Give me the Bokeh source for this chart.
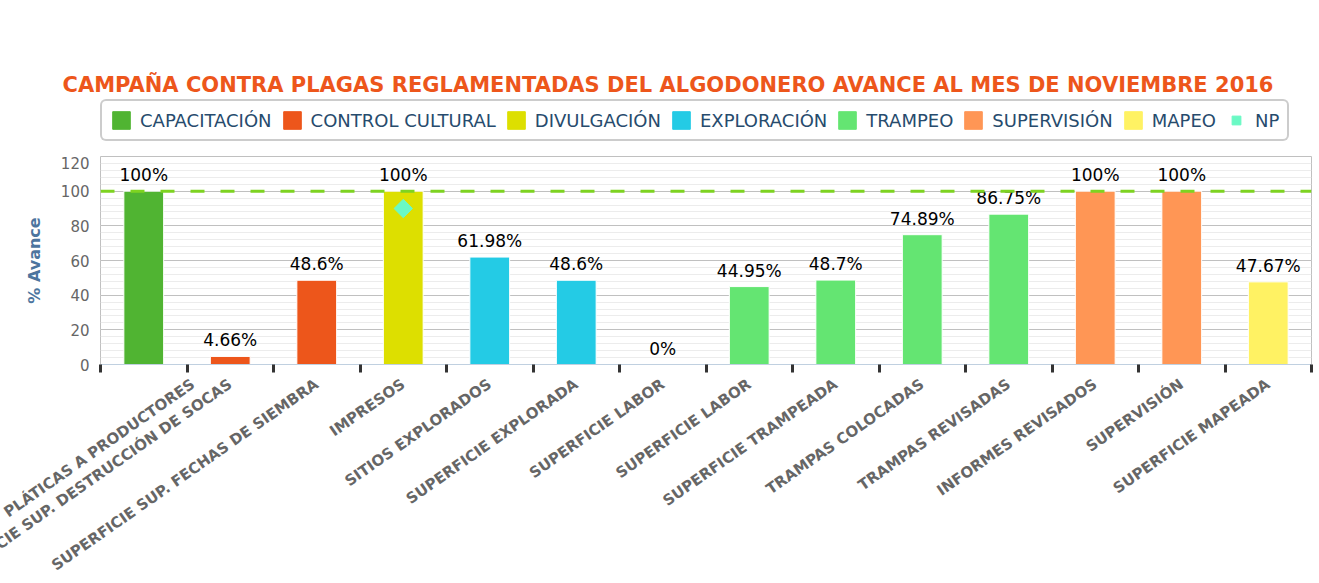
import numpy as np
from bokeh.plotting import figure
from bokeh.layouts import column
from bokeh.core.properties import value
from bokeh.models import (ColumnDataSource, Legend, LegendItem, FixedTicker,
                          SingleIntervalTicker, Span, Range1d)
from bokeh.embed import file_html
from bokeh.resources import INLINE

title_text = "CAMPAÑA CONTRA PLAGAS REGLAMENTADAS DEL ALGODONERO AVANCE AL MES DE NOVIEMBRE 2016"
categories = ["PLÁTICAS A PRODUCTORES", "SUPERFICIE SUP. DESTRUCCIÓN DE SOCAS",
              "SUPERFICIE SUP. FECHAS DE SIEMBRA", "IMPRESOS", "SITIOS EXPLORADOS",
              "SUPERFICIE EXPLORADA", "SUPERFICIE LABOR", "SUPERFICIE LABOR",
              "SUPERFICIE TRAMPEADA", "TRAMPAS COLOCADAS", "TRAMPAS REVISADAS",
              "INFORMES REVISADOS", "SUPERVISIÓN", "SUPERFICIE MAPEADA"]
values = [100, 4.66, 48.6, 100, 61.98, 48.6, 0, 44.95, 48.7, 74.89, 86.75, 100, 100, 47.67]
groups = ["CAPACITACIÓN", "CONTROL CULTURAL", "CONTROL CULTURAL", "DIVULGACIÓN",
          "EXPLORACIÓN", "EXPLORACIÓN", "EXPLORACIÓN", "TRAMPEO", "TRAMPEO", "TRAMPEO",
          "TRAMPEO", "SUPERVISIÓN", "SUPERVISIÓN", "MAPEO"]
series = ["CAPACITACIÓN", "CONTROL CULTURAL", "DIVULGACIÓN", "EXPLORACIÓN",
          "TRAMPEO", "SUPERVISIÓN", "MAPEO"]
series_colors = ["#50b432", "#ed561b", "#dddf00", "#24cbe5", "#64e572", "#ff9655", "#fff263"]
np_name = "NP"
np_color = "#6af9c4"
np_category = "IMPRESOS"
np_value = 90
target = 100

n = len(categories)
xs = np.arange(n) + 0.5
labels = [f"{v:g}%" for v in values]

# ---------------- header (title + legend) ----------------
head = figure(width=1319, height=156, output_backend="svg", toolbar_location=None,
              x_axis_location=None, y_axis_location=None,
              x_range=Range1d(0, 1), y_range=Range1d(0, 1),
              min_border_left=0, min_border_right=0, min_border_top=96, min_border_bottom=0,
              background_fill_color="white", border_fill_color="white")
head.grid.visible = False
head.outline_line_color = None
head.title.text = title_text
head.title.align = "left"
head.title.offset = -38
head.title.standoff = 0
head.title.text_font = "DejaVu Sans"
head.title.text_font_size = "21px"
head.title.text_font_style = "bold"
head.title.text_color = "#ed561b"

# zero-size stand-ins so that the legend can draw each swatch
items = []
for s, c in zip(series, series_colors):
    r = head.vbar(x=[-10], top=[0], bottom=[0], width=0, fill_color=c, line_color=c)
    items.append(LegendItem(label=s, renderers=[r]))
rnp = head.scatter(x=[-10], y=[-10], marker="square", angle=np.pi / 4, size=12,
                   fill_color=np_color, line_color=np_color)
items.append(LegendItem(label=np_name, renderers=[rnp]))

legend = Legend(items=items, orientation="horizontal", location=(0, 15),
                label_text_font="DejaVu Sans", label_text_font_size="18px",
                label_text_color="#274b6d", glyph_width=22, glyph_height=22,
                label_standoff=8, spacing=9, padding=8, margin=0,
                border_line_color="#999999", border_line_width=2,
                background_fill_color="white")
if "border_radius" in Legend.properties():
    legend.border_radius = 6
head.add_layout(legend, "center")

# ---------------- main chart ----------------
# taller than the window below the axis on purpose: the long rotated category
# labels run off the bottom edge, as in the original chart
p = figure(width=1319, height=487, output_backend="svg", toolbar_location=None,
           x_range=Range1d(0, n), y_range=Range1d(0, 120),
           min_border_left=100, min_border_right=8, min_border_top=0,
           min_border_bottom=279,
           background_fill_color="white", border_fill_color="white")

for s, c in zip(series, series_colors):
    idx = [i for i, g in enumerate(groups) if g == s]
    src = ColumnDataSource(dict(x=[xs[i] for i in idx], top=[values[i] for i in idx]))
    p.vbar(x="x", top="top", width=0.46, source=src, fill_color=c, line_color="white", line_width=1)

lsrc = ColumnDataSource(dict(x=xs, y=values, t=labels))
p.text(x="x", y="y", text="t", source=lsrc, text_align="center", text_baseline="bottom",
       y_offset=-6, text_font=value("DejaVu Sans"), text_font_size="17px", text_color="black")

ni = categories.index(np_category)
p.scatter(x=[xs[ni]], y=[np_value], marker="square", angle=np.pi / 4, size=13,
          fill_color=np_color, line_color=np_color)

p.add_layout(Span(location=target, dimension="width", line_color="#7ed321", line_width=3,
                  line_dash="14 16"))

# y axis
p.yaxis.ticker = SingleIntervalTicker(interval=20, num_minor_ticks=5)
p.yaxis.axis_line_color = None
p.yaxis.major_tick_line_color = None
p.yaxis.minor_tick_line_color = None
p.yaxis.major_label_text_font = "DejaVu Sans"
p.yaxis.major_label_text_font_size = "15px"
p.yaxis.major_label_text_color = "#666666"
p.yaxis.axis_label = "% Avance"
p.yaxis.axis_label_text_font = "DejaVu Sans"
p.yaxis.axis_label_text_font_style = "bold"
p.yaxis.axis_label_text_font_size = "16px"
p.yaxis.axis_label_text_color = "#4d759e"
p.yaxis.axis_label_standoff = 14
p.ygrid.grid_line_color = "#c0c0c0"
p.ygrid.minor_grid_line_color = "#ececec"

# x axis: labels at category centres, tick marks at category boundaries
p.xaxis.ticker = FixedTicker(ticks=list(xs), minor_ticks=list(range(n + 1)))
p.xaxis.major_label_overrides = {float(x): c for x, c in zip(xs, categories)}
p.xaxis.major_label_orientation = np.deg2rad(35)
p.xaxis.major_label_text_font = "DejaVu Sans"
p.xaxis.major_label_text_font_style = "bold"
p.xaxis.major_label_text_font_size = "15px"
p.xaxis.major_label_text_color = "#666666"
p.xaxis.major_label_standoff = 10
p.xaxis.major_tick_out = 0
p.xaxis.major_tick_in = 0
p.xaxis.minor_tick_line_color = "#333333"
p.xaxis.minor_tick_line_width = 3
p.xaxis.minor_tick_out = 8
p.xaxis.minor_tick_in = 0
p.xaxis.axis_line_color = "#c0d0e0"
p.xgrid.grid_line_color = None

p.outline_line_color = "#c0c0c0"

layout = column(head, p, spacing=0)
open("out.html", "w").write(file_html(layout, INLINE))
